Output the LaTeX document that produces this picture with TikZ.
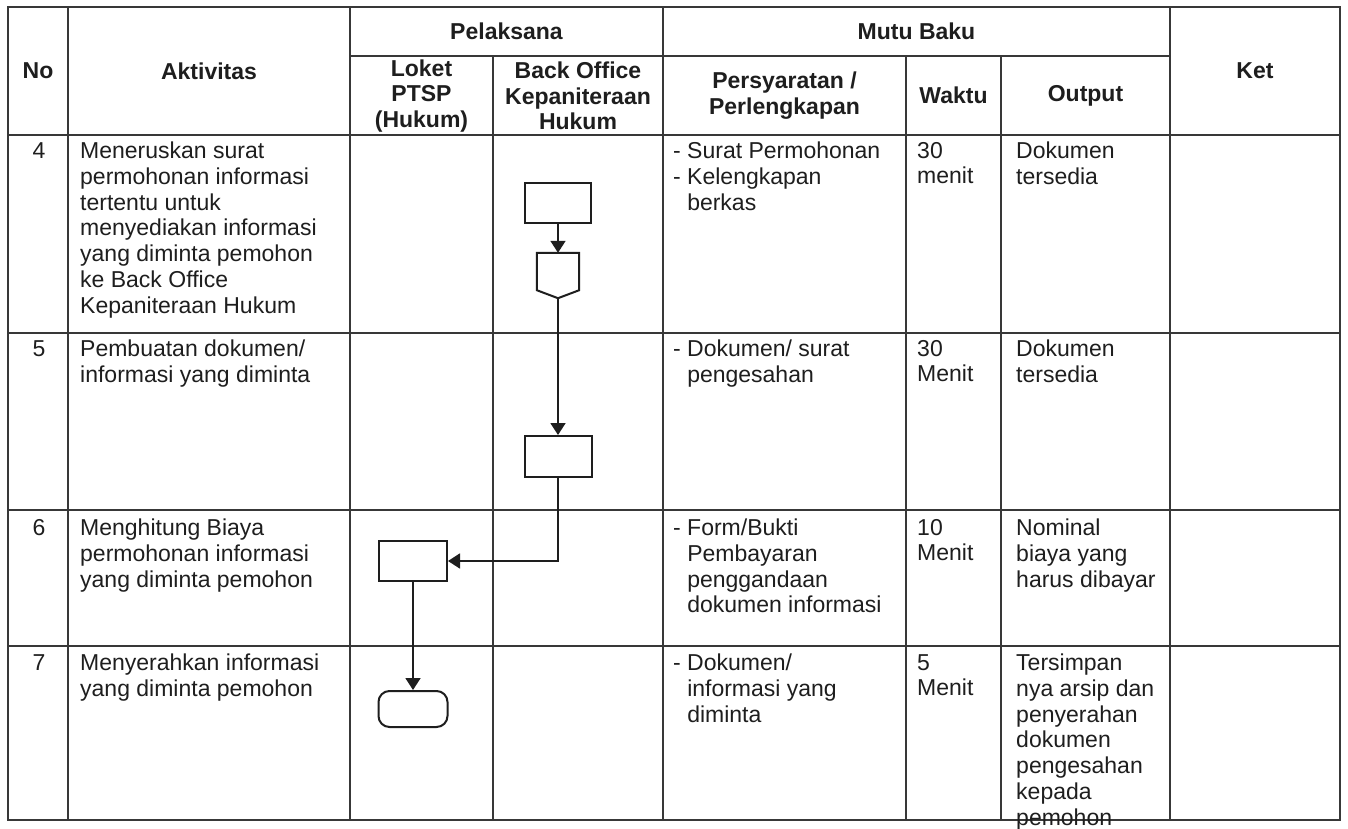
\documentclass[tikz,border=0pt]{standalone}
\usepackage{fontspec}
\setmainfont{Liberation Sans}
\usetikzlibrary{arrows.meta}
\definecolor{ink}{HTML}{1E1E1E}
\definecolor{rule}{HTML}{383838}
\begin{document}
\begin{tikzpicture}[x=1pt,y=-1pt,
  font=\fontsize{23}{25.7}\selectfont,
  grid/.style={draw=rule, line width=1.6pt},
  hdr/.style={font=\fontsize{23}{25.5}\selectfont\bfseries, align=center, inner sep=0pt, text=ink},
  cell/.style={anchor=north west, align=left, inner sep=0pt, text=ink},
  num/.style={anchor=north, inner sep=0pt, text=ink},
  procbox/.style={draw=ink, line width=2pt, minimum width=66pt, minimum height=40pt, inner sep=0pt},
  termbox/.style={draw=ink, line width=2pt, rounded corners=11pt, minimum width=69pt, minimum height=36pt, inner sep=0pt},
  flow/.style={draw=ink, line width=1.8pt, -{Triangle[length=12pt,width=15pt]}},
]
% page
\fill[white] (0,0) rectangle (1348,829);
\useasboundingbox (0,0) rectangle (1348,829);

% table rules
\draw[grid] (8,7) rectangle (1340,820);
\draw[grid] (68,7) -- (68,820);
\draw[grid] (350,7) -- (350,820);
\draw[grid] (663,7) -- (663,820);
\draw[grid] (1170,7) -- (1170,820);
\draw[grid] (350,56) -- (1170,56);
\draw[grid] (493,56) -- (493,820);
\draw[grid] (906,56) -- (906,820);
\draw[grid] (1001,56) -- (1001,820);
\draw[grid] (8,135) -- (1340,135);
\draw[grid] (8,333) -- (1340,333);
\draw[grid] (8,510) -- (1340,510);
\draw[grid] (8,646) -- (1340,646);

% header
\node[hdr] (hNo) at (38,71) {No};
\node[hdr] (hAkt) at (209,71) {Aktivitas};
\node[hdr] (hPel) at (506.5,31.5) {Pelaksana};
\node[hdr] (hMutu) at (916.5,31.5) {Mutu Baku};
\node[hdr] (hKet) at (1255,71) {Ket};
\node[hdr] (hLoket) at (421.5,96) {Loket\\PTSP\\(Hukum)};
\node[hdr] (hBack) at (578,96) {Back Office\\Kepaniteraan\\Hukum};
\node[hdr] (hSyarat) at (784.5,95.5) {Persyaratan /\\Perlengkapan};
\node[hdr] (hWaktu) at (953.5,95.5) {Waktu};
\node[hdr] (hOut) at (1085.5,95.5) {Output};

% row 4
\node[num] (n4) at (39,142) {4};
\node[cell] (a4) at (80,142) {Meneruskan surat\\permohonan informasi\\tertentu untuk\\menyediakan informasi\\yang diminta pemohon\\ke Back Office\\Kepaniteraan Hukum};
\node[cell] (s4) at (673,142) {-\ Surat Permohonan\\-\ Kelengkapan\\\phantom{-\ }berkas};
\node[cell] (w4) at (917,142) {30\\menit};
\node[cell] (o4) at (1016,142) {Dokumen\\tersedia};

% row 5
\node[num] (n5) at (39,340) {5};
\node[cell] (a5) at (80,340) {Pembuatan dokumen/\\informasi yang diminta};
\node[cell] (s5) at (673,340) {-\ Dokumen/ surat\\\phantom{-\ }pengesahan};
\node[cell] (w5) at (917,340) {30\\Menit};
\node[cell] (o5) at (1016,340) {Dokumen\\tersedia};

% row 6
\node[num] (n6) at (39,519) {6};
\node[cell] (a6) at (80,519) {Menghitung Biaya\\permohonan informasi\\yang diminta pemohon};
\node[cell] (s6) at (673,519) {-\ Form/Bukti\\\phantom{-\ }Pembayaran\\\phantom{-\ }penggandaan\\\phantom{-\ }dokumen informasi};
\node[cell] (w6) at (917,519) {10\\Menit};
\node[cell] (o6) at (1016,519) {Nominal\\biaya yang\\harus dibayar};

% row 7
\node[num] (n7) at (39,654) {7};
\node[cell] (a7) at (80,654) {Menyerahkan informasi\\yang diminta pemohon};
\node[cell] (s7) at (673,654) {-\ Dokumen/\\\phantom{-\ }informasi yang\\\phantom{-\ }diminta};
\node[cell] (w7) at (917,654) {5\\Menit};
\node[cell] (o7) at (1016,654) {Tersimpan\\nya arsip dan\\penyerahan\\dokumen\\pengesahan\\kepada\\pemohon};

% flow symbols
\node[procbox] (p4) at (558,203) {};
\node[inner sep=0pt, minimum width=42pt, minimum height=45pt] (off4) at (558,275.5) {};
\draw[ink, line width=2pt, line join=miter]
  (off4.north west) -- (off4.north east) -- ([yshift=8pt]off4.south east)
  -- (off4.south) -- ([yshift=8pt]off4.south west) -- cycle;
\node[procbox, minimum width=67pt, minimum height=41pt] (p5) at (558,456.5) {};
\node[procbox, minimum width=68pt] (p6) at (413,561) {};
\node[termbox] (t7) at (413,709) {};

% connectors
\draw[flow] (p4.south) -- (off4.north);
\draw[flow] (off4.south) -- (p5.north);
\draw[flow] (p5.south) |- (p6.east);
\draw[flow] (p6.south) -- (t7.north);
\end{tikzpicture}
\end{document}
